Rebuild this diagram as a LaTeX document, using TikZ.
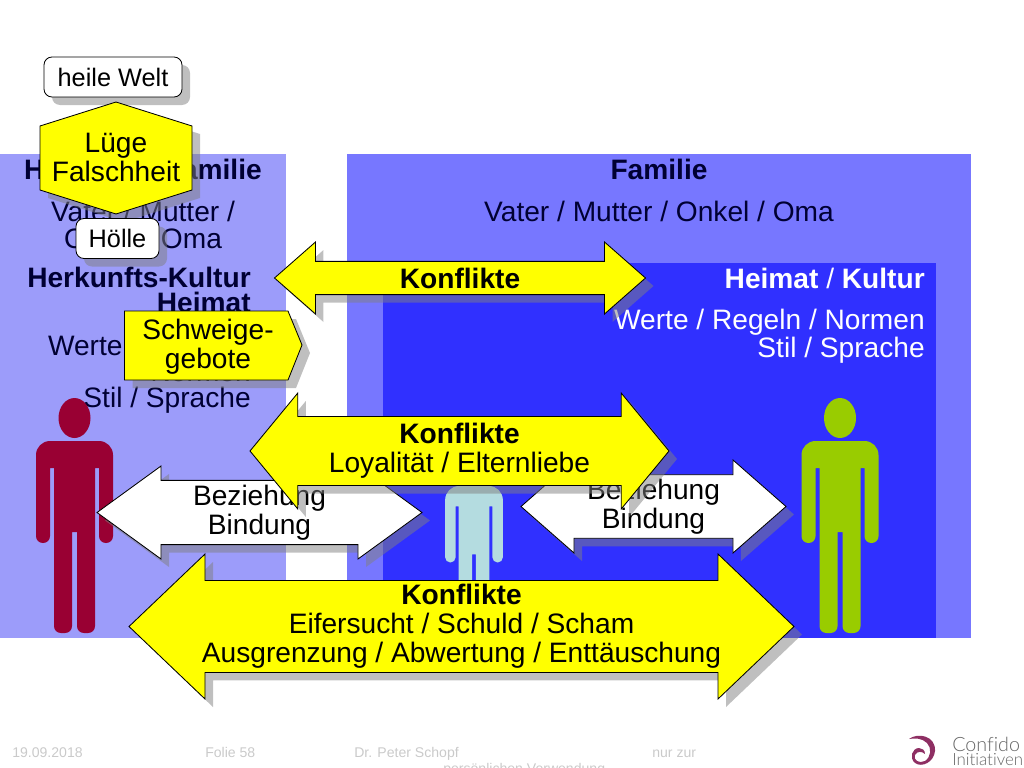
\documentclass[tikz,border=0pt]{standalone}
\usepackage{fontspec}
\setmainfont{Liberation Sans}
\newfontfamily\logofont[Ligatures=NoCommon]{Lato Light}
\usetikzlibrary{shapes.arrows,shadows}
\definecolor{lightpanel}{HTML}{9C9CFA}
\definecolor{familypanel}{HTML}{7777FF}
\definecolor{culturepanel}{HTML}{3030FF}
\definecolor{maroonman}{HTML}{990033}
\definecolor{greenman}{HTML}{99CC00}
\definecolor{paleman}{HTML}{B4DCE0}
\definecolor{footgray}{HTML}{CACACA}
\definecolor{swirl}{HTML}{8E2F63}
\definecolor{flashyellow}{RGB}{255,255,0}
\definecolor{navytext}{HTML}{000033}
\tikzset{
  greyshadow/.style={drop shadow={shadow xshift=0.2cm,shadow yshift=-0.2cm,fill=gray,opacity=0.5}},
  bigtext/.style={text=navytext,font=\fontsize{20}{18.6}\selectfont,align=center,inner sep=0},
  boldtext/.style={bigtext,font=\fontsize{20}{18.6}\bfseries\selectfont},
  rightblock/.style={bigtext,align=right,anchor=east},
  tag/.style={draw,line width=0.6pt,fill=white,rounded corners=0.2cm,greyshadow,inner sep=0,font=\fontsize{18}{20}\selectfont},
  flash/.style={draw,line width=0.6pt,fill=#1,greyshadow,shape=double arrow,inner sep=0,align=center,font=\fontsize{20}{20.6}\selectfont},
  yellowbox/.style={draw,line width=0.6pt,fill=flashyellow,greyshadow},
  yellowtext/.style={font=\fontsize{20}{20.6}\selectfont,align=center,inner sep=0},
  footer/.style={footgray,font=\fontsize{10}{12}\selectfont,inner sep=0,anchor=base west},
  pics/person/.style 2 args={code={
    \fill[#1] (-20.5,27) [sharp corners] -- (-24.5,27) [rounded corners=#2] -- (-24.5,102) -- (-38.5,102)
      [rounded corners=0.35cm] -- (-38.5,0) -- (38.5,0) [rounded corners=#2] -- (38.5,102) -- (24.5,102)
      [sharp corners] -- (24.5,27) -- (20.5,27) [rounded corners=#2] -- (20.5,192) -- (2.5,192)
      [sharp corners] -- (2.5,91) -- (-2.5,91) [rounded corners=#2] -- (-2.5,192) -- (-20.5,192) [sharp corners] -- cycle;
    \fill[#1] (0,-23) ellipse (16 and 20);
  }}
}
\begin{document}
\begin{tikzpicture}[x=0.025cm,y=-0.025cm]
\clip (0,0) rectangle (1024,768);
% panels
\fill[lightpanel] (0,154) rectangle (286,638);
\fill[familypanel] (347,154) rectangle (971,638);
\fill[culturepanel] (383,263) rectangle (936,638);
% left column
\node[boldtext] (herkunftfam) at (143,169) {Herkunfts-Familie};
\node[bigtext] (herkunftnames) at (143,225) {Vater / Mutter /\\Onkel / Oma};
\node[rightblock,font=\fontsize{20}{17.2}\bfseries\selectfont] (herkunftkult) at (251,290) {Herkunfts-Kultur\\Heimat};
\node[rightblock] (herkunftwerte) at (251,374) {Werte / Regeln /\\Normen\\Stil / Sprache};
% right column
\node[boldtext] (familie) at (659,169) {Familie};
\node[bigtext] (familienames) at (659,211) {Vater / Mutter / Onkel / Oma};
\node[rightblock,text=white] (heimat) at (925,278) {\textbf{Heimat} / \textbf{Kultur}};
\node[rightblock,text=white] (werte) at (925,336.5) {Werte / Regeln / Normen\\Stil / Sprache};
% figures
\pic at (74.5,441) {person={maroonman}{0.17cm}};
\pic[scale=.75] at (474,486) {person={paleman}{0.13cm}};
\pic at (840,441) {person={greenman}{0.17cm}};
% arrows
\node[flash=white,minimum height=325*0.025cm,minimum width=93*0.025cm,double arrow head extend=12.5*0.025cm,double arrow tip angle=72] (bindleft) at (259.5,512.5) {Beziehung\\Bindung};
\node[flash=white,minimum height=265*0.025cm,minimum width=93*0.025cm,double arrow head extend=13*0.025cm,double arrow tip angle=82.5] (bindright) at (653.5,506.5) {Beziehung\\Bindung};
\node[flash=flashyellow,minimum height=371*0.025cm,minimum width=72*0.025cm,double arrow head extend=12.5*0.025cm,double arrow tip angle=82.6] (konftop) at (460,278) {\textbf{Konflikte}};
\node[flash=flashyellow,minimum height=419*0.025cm,minimum width=116*0.025cm,double arrow head extend=19*0.025cm,double arrow tip angle=101] (konfmid) at (459.5,451) {\textbf{Konflikte}\\Loyalität / Elternliebe};
\node[flash=flashyellow,minimum height=665*0.025cm,minimum width=145*0.025cm,double arrow head extend=24.5*0.025cm,double arrow tip angle=87.3] (konfbot) at (461.5,626.5) {\textbf{Konflikte}\\Eifersucht / Schuld / Scham\\Ausgrenzung / Abwertung / Enttäuschung};
% tags
\node[tag,minimum width=138*0.025cm,minimum height=40*0.025cm] (heile) at (113,77) {heile Welt};
\draw[yellowbox] (40,126) -- (116,102) -- (192,126) -- (192,190) -- (116,214) -- (40,190) -- cycle;
\node[yellowtext] (luege) at (116,157) {Lüge\\Falschheit};
\node[tag,minimum width=83*0.025cm,minimum height=40*0.025cm] (hoelle) at (117.5,238.5) {Hölle};
\draw[yellowbox] (124.5,311) -- (288,311) -- (302,345) -- (288,380) -- (124.5,380) -- cycle;
\node[yellowtext] (schweige) at (208,347) {Schweige-\\gebote};
% footer
\node[footer] (datum) at (12,757) {19.09.2018};
\node[footer] (folie) at (205,757) {Folie 58};
\node[footer] (autor) at (354,757) {Dr. Peter Schopf};
\node[footer] (nur) at (652,757) {nur zur};
\node[footer] (verwendung) at (443,773) {persönlichen Verwendung};
% logo
\fill[swirl] (909,739) .. controls (918,732) and (936,736) .. (935,751) .. controls (934,762) and (922,768) .. (915,763) .. controls (909,758) and (912,748) .. (919,748) .. controls (922,748) and (925,750) .. (925,754) .. controls (922,751) and (917,751) .. (915,755) .. controls (913,760) and (919,764) .. (925,761) .. controls (931,757) and (932,748) .. (927,743) .. controls (922,738) and (915,738) .. (909,739) -- cycle;
\node[inner sep=0,anchor=west,text=gray!80!black,font=\logofont\fontsize{14}{14}\selectfont] (confido) at (952,744) {Confido};
\node[inner sep=0,anchor=west,text=gray!80!black,font=\logofont\fontsize{12}{14}\selectfont] (initiativen) at (952,760) {Initiativen};
\end{tikzpicture}
\end{document}
